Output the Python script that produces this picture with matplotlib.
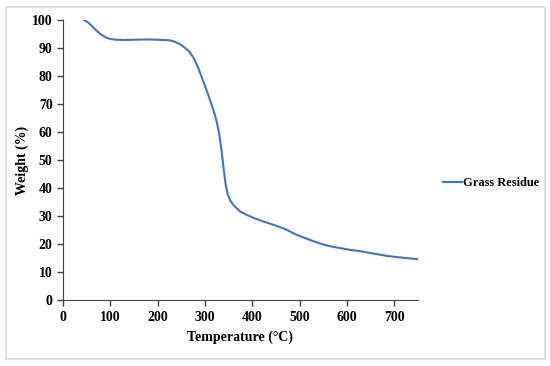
import numpy as np
import matplotlib.pyplot as plt
from matplotlib.patches import Rectangle

# TGA curve
temp = [45, 52, 60, 70, 80, 92, 102, 113, 130, 150, 176, 200, 225, 236, 247, 258, 268, 277, 286, 297,
        307, 318, 325, 330, 335, 340, 344, 348, 353, 360, 367, 374, 390, 405, 423, 450, 470, 494, 520, 543,
        560, 578, 605, 634, 660, 684, 715, 750]
weight = [100, 99.3, 98.1, 96.4, 94.9, 93.7, 93.2, 93.0, 92.9, 93.0, 93.1, 93.0, 92.8, 92.3, 91.4, 90.1, 88.5, 86.2, 82.8, 77.9,
          73.2, 67.8, 63.6, 59.4, 53.4, 46.0, 41.0, 37.8, 35.7, 34.0, 32.8, 31.7, 30.3, 29.2, 28.1, 26.6, 25.3, 23.3, 21.6, 20.2,
          19.4, 18.8, 18.0, 17.3, 16.5, 15.8, 15.2, 14.6]

plt.rcParams['font.family'] = 'Liberation Serif'
plt.rcParams['font.weight'] = 'bold'

fig = plt.figure(figsize=(5.5, 3.66), dpi=100)
fig.patches.append(Rectangle((6/550, 7/366), 539/550, 352/366, transform=fig.transFigure,
                             fill=False, edgecolor='#d9d9d9', linewidth=1.2))
ax = fig.add_axes([0.1145, 0.180, 0.6455, 0.765])
ax.plot(temp, weight, color='#4472C4', linewidth=1.5, label='Grass Residue')
ax.set_xlim(0, 750)
ax.set_ylim(0, 100)
ax.set_xticks(np.arange(0, 701, 100))
ax.set_yticks(np.arange(0, 101, 10))
ax.tick_params(labelsize=10, color='#404040', length=4, width=1)
for s in ['top', 'right']:
    ax.spines[s].set_visible(False)
for s in ['left', 'bottom']:
    ax.spines[s].set_color('#404040')
ax.set_xlabel('Temperature (°C)', fontsize=10, fontweight='bold', labelpad=5)
ax.set_ylabel('Weight (%)', fontsize=10, fontweight='bold', labelpad=2)
fig.legend(loc='center left', bbox_to_anchor=(0.785, 0.5), frameon=False, fontsize=9,
           handlelength=1.5, handletextpad=0.1)
plt.savefig('out.png', dpi=100)
